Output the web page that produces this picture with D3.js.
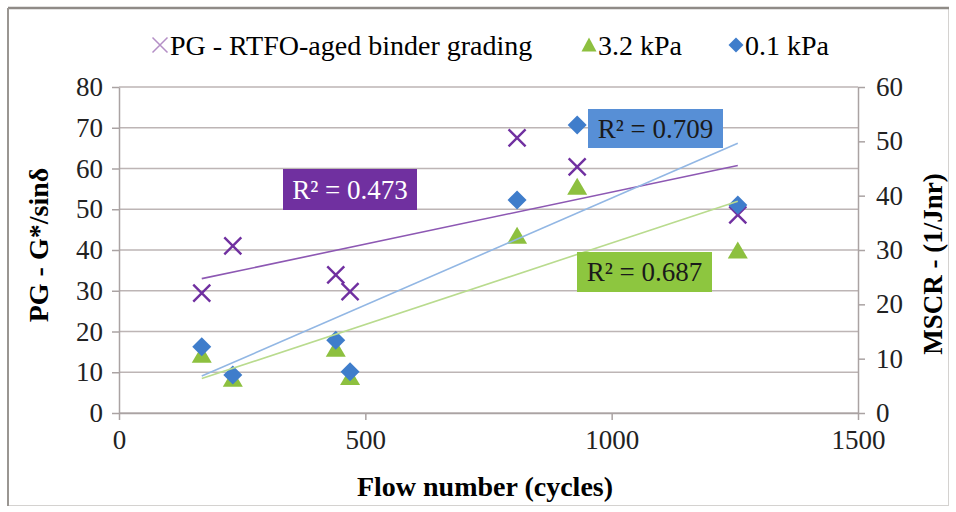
<!DOCTYPE html>
<html>
<head>
<meta charset="utf-8">
<script src="https://cdn.jsdelivr.net/npm/d3@7"></script>
<style>
  body { margin: 0; background: #fff; }
  text { font-family: "Liberation Serif", "Times New Roman", serif; }
</style>
</head>
<body>
<div id="container"></div>
<script>
var width = 956,
    height = 512;

// flow number (cycles) for each binder
var flow = [168, 231, 440, 469, 808, 930, 1256];
// PG - G*/sin(delta), left axis
var pg = [29.4, 41.0, 33.9, 29.8, 67.5, 60.4, 48.6];
// MSCR 1/Jnr at 3.2 kPa, right axis
var kpa32 = [10.5, 6.1, 11.6, 6.4, 32.4, 41.4, 29.7];
// MSCR 1/Jnr at 0.1 kPa, right axis
var kpa01 = [12.2, 7.0, 13.4, 7.6, 39.2, 53.0, 38.3];

var xTicks = [0, 500, 1000, 1500];
var leftTicks = [0, 10, 20, 30, 40, 50, 60, 70, 80];
var rightTicks = [0, 10, 20, 30, 40, 50, 60];
var r2Labels = ["R\u00b2 = 0.473", "R\u00b2 = 0.687", "R\u00b2 = 0.709"];

var purple = "#7030a0", green = "#8dc03f", blue = "#3f7dcb";

var svg = d3.select('#container').append('svg')
    .attr("width", width)
    .attr("height", height);

// frame
svg.append("rect")
    .attr("x", 8.5).attr("y", 8.5)
    .attr("width", 940).attr("height", 497)
    .style("fill", "#fff")
    .style("stroke", "#d4d2d0");
svg.append("line").attr("x1", 8).attr("x2", 949).attr("y1", 8).attr("y2", 8)
    .style("stroke", "#8f8b87").style("stroke-width", 2.5);
svg.append("line").attr("x1", 8).attr("x2", 8).attr("y1", 8).attr("y2", 506)
    .style("stroke", "#9a9692").style("stroke-width", 2);

var x = d3.scaleLinear().domain([0, 1500]).range([119, 858]);
var yL = d3.scaleLinear().domain([0, 80]).range([413, 87]);
var yR = d3.scaleLinear().domain([0, 60]).range([413, 87]);

// gridlines
svg.selectAll('.grid')
    .data(leftTicks)
    .enter()
    .append('line')
    .attr('class', 'grid')
    .attr('x1', x(0)).attr('x2', x(1500))
    .attr('y1', function(d) { return yL(d); })
    .attr('y2', function(d) { return yL(d); })
    .style('stroke', '#bdb5b5')
    .style('stroke-width', 1.6);

function styleAxis(g) {
  g.attr('font-family', null);
  g.selectAll('path').style('stroke', '#aaa3a3').style('stroke-width', 1.5);
  g.selectAll('line').style('stroke', '#aaa3a3').style('stroke-width', 1.5);
  g.selectAll('text').style('font-size', '27px').style('fill', '#222')
    .style('font-family', '"Liberation Serif", serif');
}

svg.append('g')
    .attr('transform', 'translate(' + x(0) + ',0)')
    .call(d3.axisLeft(yL).tickValues(leftTicks).tickSize(7).tickSizeOuter(0).tickPadding(9))
    .call(styleAxis);

svg.append('g')
    .attr('transform', 'translate(' + x(1500) + ',0)')
    .call(d3.axisRight(yR).tickValues(rightTicks).tickSize(7).tickSizeOuter(0).tickPadding(11))
    .call(styleAxis);

svg.append('g')
    .attr('transform', 'translate(0,' + yL(0) + ')')
    .call(d3.axisBottom(x).tickValues(xTicks).tickSize(7).tickSizeOuter(0).tickPadding(10)
      .tickFormat(d3.format('d')))
    .call(styleAxis);

// axis titles
svg.append('text')
    .attr('transform', 'translate(48,245) rotate(-90)')
    .attr('text-anchor', 'middle')
    .style('font-size', '28px').style('font-weight', 'bold')
    .text('PG - G*/sin\u03b4');
svg.append('text')
    .attr('transform', 'translate(942,264) rotate(-90)')
    .attr('text-anchor', 'middle')
    .style('font-size', '27px').style('font-weight', 'bold')
    .text('MSCR - (1/Jnr)');
svg.append('text')
    .attr('x', 485).attr('y', 496)
    .attr('text-anchor', 'middle')
    .style('font-size', '28px').style('font-weight', 'bold')
    .text('Flow number (cycles)');

// linear trend
function fit(xs, ys) {
  var mx = d3.mean(xs), my = d3.mean(ys);
  var sxy = d3.sum(xs, function(v, i) { return (v - mx) * (ys[i] - my); });
  var sxx = d3.sum(xs, function(v) { return (v - mx) * (v - mx); });
  var b = sxy / sxx;
  return function(v) { return my + b * (v - mx); };
}

function diamond(s) {
  return 'M0,' + (-s) + 'L' + s + ',0L0,' + s + 'L' + (-s) + ',0Z';
}
function triangle(w, h) {
  return 'M0,' + (-h * 0.6) + 'L' + (w / 2) + ',' + (h * 0.4) + 'L' + (-w / 2) + ',' + (h * 0.4) + 'Z';
}
function cross(s) {
  return 'M' + (-s) + ',' + (-s) + 'L' + s + ',' + s + 'M' + s + ',' + (-s) + 'L' + (-s) + ',' + s;
}

// markers
svg.selectAll('.pg')
    .data(flow)
    .enter()
    .append('path')
    .attr('class', 'pg')
    .attr('transform', function(d, i) { return 'translate(' + x(d) + ',' + yL(pg[i]) + ')'; })
    .attr('d', cross(8.5))
    .style('fill', 'none')
    .style('stroke', purple)
    .style('stroke-width', 2.4);

svg.selectAll('.k32')
    .data(flow)
    .enter()
    .append('path')
    .attr('class', 'k32')
    .attr('transform', function(d, i) { return 'translate(' + x(d) + ',' + yR(kpa32[i]) + ')'; })
    .attr('d', triangle(20, 17))
    .style('fill', green);

svg.selectAll('.k01')
    .data(flow)
    .enter()
    .append('path')
    .attr('class', 'k01')
    .attr('transform', function(d, i) { return 'translate(' + x(d) + ',' + yR(kpa01[i]) + ')'; })
    .attr('d', diamond(9.5))
    .style('fill', blue);

// trendlines
var x0 = d3.min(flow), x1 = d3.max(flow);
var trends = [
  { f: fit(flow, pg), y: yL, c: '#8d58b3' },
  { f: fit(flow, kpa32), y: yR, c: '#b9db8e' },
  { f: fit(flow, kpa01), y: yR, c: '#92b7e4' }
];
trends.forEach(function(t) {
  svg.append('line')
    .attr('x1', x(x0)).attr('y1', t.y(t.f(x0)))
    .attr('x2', x(x1)).attr('y2', t.y(t.f(x1)))
    .style('stroke', t.c)
    .style('stroke-width', 1.6);
});

// R² boxes
var boxes = [
  { x: 283, y: 169, w: 134, h: 41, fill: '#7030a0', color: '#fff', t: r2Labels[0] },
  { x: 577, y: 252, w: 135, h: 40, fill: '#8dc63f', color: '#1a1a1a', t: r2Labels[1] },
  { x: 588, y: 109, w: 135, h: 39, fill: '#578fd6', color: '#1a1a1a', t: r2Labels[2] }
];
boxes.forEach(function(b) {
  svg.append('rect')
    .attr('x', b.x).attr('y', b.y).attr('width', b.w).attr('height', b.h)
    .style('fill', b.fill);
  svg.append('text')
    .attr('x', b.x + b.w / 2).attr('y', b.y + b.h / 2 + 9)
    .attr('text-anchor', 'middle')
    .style('font-size', '27px')
    .style('fill', b.color)
    .text(b.t);
});

// legend
var legend = svg.append('g');
legend.append('path')
    .attr('transform', 'translate(160,45)')
    .attr('d', cross(7.5))
    .style('fill', 'none').style('stroke', '#b48fc6').style('stroke-width', 1.5);
legend.append('text').attr('x', 170).attr('y', 55)
    .style('font-size', '28px').text('PG - RTFO-aged binder grading');
legend.append('path')
    .attr('transform', 'translate(589,46)')
    .attr('d', triangle(15, 14))
    .style('fill', green);
legend.append('text').attr('x', 598).attr('y', 55)
    .style('font-size', '28px').text('3.2 kPa');
legend.append('path')
    .attr('transform', 'translate(736,45)')
    .attr('d', diamond(7.5))
    .style('fill', blue);
legend.append('text').attr('x', 745).attr('y', 55)
    .style('font-size', '28px').text('0.1 kPa');
</script>
</body>
</html>
